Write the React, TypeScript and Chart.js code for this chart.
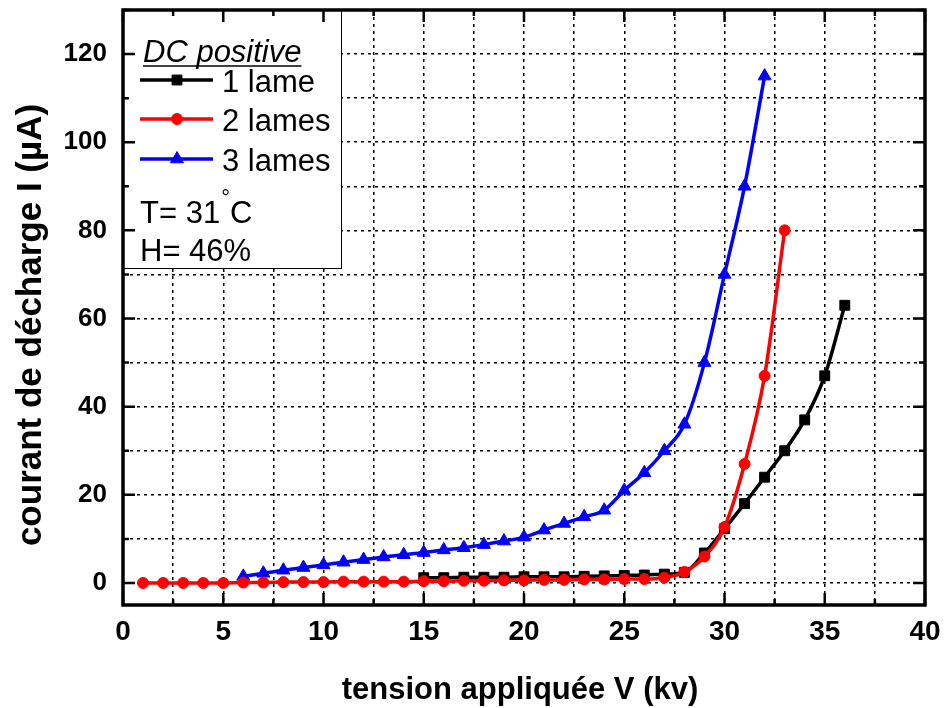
import React, { useEffect, useRef } from "react";
import { Chart, registerables } from "chart.js";

Chart.register(...registerables);

// ---- data ----
const V_1LAME = [15, 16, 17, 18, 19, 20, 21, 22, 23, 24, 25, 26, 27, 28, 29, 30, 31, 32, 33, 34, 35, 36];
const I_1LAME = [1.2, 1.2, 1.3, 1.3, 1.3, 1.4, 1.4, 1.4, 1.5, 1.6, 1.7, 1.8, 2.0, 2.4, 6.8, 12.3, 18, 24, 30, 37, 47, 63];

const V_2LAMES = [1, 2, 3, 4, 5, 6, 7, 8, 9, 10, 11, 12, 13, 14, 15, 16, 17, 18, 19, 20, 21, 22, 23, 24, 25, 26, 27, 28, 29, 30, 31, 32, 33];
const I_2LAMES = [0, 0, 0, 0, 0, 0.1, 0.1, 0.2, 0.2, 0.2, 0.3, 0.3, 0.3, 0.3, 0.4, 0.4, 0.5, 0.5, 0.6, 0.6, 0.7, 0.7, 0.8, 0.8, 0.9, 0.9, 1.2, 2.5, 6, 12.7, 27, 47, 80];

const V_3LAMES = [6, 7, 8, 9, 10, 11, 12, 13, 14, 15, 16, 17, 18, 19, 20, 21, 22, 23, 24, 25, 26, 27, 28, 29, 30, 31, 32];
const I_3LAMES = [1.5, 2.2, 2.9, 3.5, 4.1, 4.7, 5.3, 5.9, 6.4, 6.9, 7.5, 8.0, 8.7, 9.5, 10.4, 12, 13.5, 15, 16.5, 21, 25, 30, 36, 50, 70, 90, 115];

const X_TICKS = [0, 2.5, 5, 7.5, 10, 12.5, 15, 17.5, 20, 22.5, 25, 27.5, 30, 32.5, 35, 37.5, 40];
const X_LABELS = [0, 5, 10, 15, 20, 25, 30, 35, 40];
const Y_TICKS = [0, 10, 20, 30, 40, 50, 60, 70, 80, 90, 100, 110, 120, 130];
const Y_LABELS = [0, 20, 40, 60, 80, 100, 120];

const SERIES_NAMES = ["1 lame", "2 lames", "3 lames"];
const SERIES_COLORS = ["#000000", "#ff0000", "#0000ff"];
const LEGEND_TITLE = "DC positive";
const NOTE_T = "T= 31";
const NOTE_H = "H= 46%";
const X_TITLE = "tension appliquée V (kv)";
const Y_TITLE = "courant de décharge I (µA)";

const toPoints = (xs: number[], ys: number[]) => xs.map((x, i) => ({ x, y: ys[i] }));

const FONT = "'Liberation Sans', Arial, Helvetica, sans-serif";

function marker(ctx: CanvasRenderingContext2D, style: string, x: number, y: number, r: number) {
  ctx.beginPath();
  if (style === "rect") {
    const s = r * Math.SQRT1_2;
    ctx.rect(x - s, y - s, 2 * s, 2 * s);
  } else if (style === "circle") {
    ctx.arc(x, y, r, 0, Math.PI * 2);
  } else {
    const a = Math.PI / 6;
    ctx.moveTo(x, y - r);
    ctx.lineTo(x + Math.cos(a) * r, y + Math.sin(a) * r);
    ctx.lineTo(x - Math.cos(a) * r, y + Math.sin(a) * r);
    ctx.closePath();
  }
  ctx.fill();
  ctx.stroke();
}

const framePlugin = {
  id: "framePlugin",
  afterDraw(chart: any) {
    const { ctx, chartArea } = chart;
    const { left, right, top, bottom } = chartArea;
    const xs = chart.scales.x;
    const ys = chart.scales.y;
    ctx.save();

    // legend box
    const bx = left, by = top, bw = 341 - left, bh = 268 - top;
    ctx.fillStyle = "#ffffff";
    ctx.fillRect(bx, by, bw, bh);
    ctx.strokeStyle = "#000";
    ctx.lineWidth = 1;
    ctx.strokeRect(bx + 0.5, by + 0.5, bw, bh);

    ctx.fillStyle = "#000";
    ctx.textBaseline = "alphabetic";
    ctx.textAlign = "left";
    ctx.font = `italic 31px ${FONT}`;
    ctx.fillText(LEGEND_TITLE, 143, 62);
    const tw = ctx.measureText(LEGEND_TITLE).width;
    ctx.lineWidth = 1.5;
    ctx.beginPath();
    ctx.moveTo(143, 66);
    ctx.lineTo(143 + tw, 66);
    ctx.stroke();

    const rowsY = [80, 119, 159];
    const styles = ["rect", "circle", "triangle"];
    const radii = [7, 5.5, 7.5];
    rowsY.forEach((yy, i) => {
      ctx.strokeStyle = SERIES_COLORS[i];
      ctx.lineWidth = 3.5;
      ctx.beginPath();
      ctx.moveTo(140, yy);
      ctx.lineTo(213, yy);
      ctx.stroke();
      ctx.fillStyle = SERIES_COLORS[i];
      ctx.lineWidth = 1;
      marker(ctx, styles[i], 177, yy, radii[i]);
      ctx.fillStyle = "#000";
      ctx.font = `31px ${FONT}`;
      ctx.fillText(SERIES_NAMES[i], 222, yy + 12);
    });

    ctx.fillStyle = "#000";
    ctx.font = `31px ${FONT}`;
    ctx.fillText(NOTE_T, 140, 223);
    const w = ctx.measureText(NOTE_T).width;
    ctx.font = `22px ${FONT}`;
    ctx.fillText("°", 140 + w + 1, 205);
    const dw = ctx.measureText("°").width;
    ctx.font = `31px ${FONT}`;
    ctx.fillText("C", 140 + w + dw + 1, 223);
    ctx.fillText(NOTE_H, 140, 261);

    // inner ticks
    ctx.strokeStyle = "#000";
    ctx.lineWidth = 2.5;
    X_TICKS.forEach((v) => {
      const px = xs.getPixelForValue(v);
      const len = v % 5 === 0 ? 12 : 6;
      ctx.beginPath();
      ctx.moveTo(px, bottom);
      ctx.lineTo(px, bottom - len);
      ctx.moveTo(px, top);
      ctx.lineTo(px, top + len);
      ctx.stroke();
    });
    Y_TICKS.forEach((v) => {
      const py = ys.getPixelForValue(v);
      const len = v % 20 === 0 ? 12 : 6;
      ctx.beginPath();
      ctx.moveTo(left, py);
      ctx.lineTo(left + len, py);
      ctx.moveTo(right, py);
      ctx.lineTo(right - len, py);
      ctx.stroke();
    });

    // frame
    ctx.lineWidth = 3.5;
    ctx.strokeRect(left, top, right - left, bottom - top);

    // axis titles
    ctx.fillStyle = "#000";
    ctx.font = `bold 31px ${FONT}`;
    ctx.textAlign = "center";
    ctx.fillText(X_TITLE, (left + right) / 2 - 4, 699);
    ctx.save();
    ctx.translate(41, 325);
    ctx.rotate(-Math.PI / 2);
    ctx.font = `bold 35px ${FONT}`;
    ctx.fillText(Y_TITLE, 0, 0);
    ctx.restore();

    ctx.restore();
  },
};

export default function App() {
  const ref = useRef<HTMLCanvasElement | null>(null);

  useEffect(() => {
    if (!ref.current) return;
    const common = {
      showLine: true,
      borderWidth: 3.5,
      cubicInterpolationMode: "monotone" as const,
      pointBorderWidth: 1,
    };
    const chart = new Chart(ref.current, {
      type: "scatter",
      data: {
        datasets: [
          {
            ...common,
            label: SERIES_NAMES[0],
            data: toPoints(V_1LAME, I_1LAME),
            borderColor: SERIES_COLORS[0],
            backgroundColor: SERIES_COLORS[0],
            pointStyle: "rect",
            pointRadius: 7,
            order: 1,
          },
          {
            ...common,
            label: SERIES_NAMES[1],
            data: toPoints(V_2LAMES, I_2LAMES),
            borderColor: SERIES_COLORS[1],
            backgroundColor: SERIES_COLORS[1],
            pointStyle: "circle",
            pointRadius: 5.5,
            order: 0,
          },
          {
            ...common,
            label: SERIES_NAMES[2],
            data: toPoints(V_3LAMES, I_3LAMES),
            borderColor: SERIES_COLORS[2],
            backgroundColor: SERIES_COLORS[2],
            pointStyle: "triangle",
            pointRadius: 7.5,
            order: 2,
          },
        ],
      },
      options: {
        responsive: false,
        animation: false,
        layout: { padding: { top: 10, right: 19, left: 0, bottom: 0 } },
        plugins: { legend: { display: false }, tooltip: { enabled: false } },
        scales: {
          x: {
            type: "linear",
            min: 0,
            max: 40,
            afterBuildTicks: (s: any) => {
              s.ticks = X_TICKS.map((v) => ({ value: v }));
            },
            afterFit: (s: any) => {
              s.height = 103;
              s.paddingLeft = 0;
              s.paddingRight = 0;
            },
            ticks: {
              autoSkip: false,
              maxRotation: 0,
              padding: 10,
              color: "#000",
              font: { family: FONT, size: 28, weight: "bold" },
              callback: (v: any) => (X_LABELS.includes(Number(v)) ? String(v) : ""),
            },
            grid: {
              color: "#000",
              lineWidth: 1.5,
              drawTicks: false,
            },
            border: { display: false, dash: [3, 4] },
          },
          y: {
            type: "linear",
            min: -5,
            max: 130,
            afterBuildTicks: (s: any) => {
              s.ticks = Y_TICKS.map((v) => ({ value: v }));
            },
            afterFit: (s: any) => {
              s.width = 123;
              s.paddingTop = 0;
              s.paddingBottom = 0;
            },
            ticks: {
              autoSkip: false,
              padding: 16,
              color: "#000",
              font: { family: FONT, size: 26, weight: "bold" },
              callback: (v: any) => (Y_LABELS.includes(Number(v)) ? String(v) : ""),
            },
            grid: {
              color: "#000",
              lineWidth: 1.5,
              drawTicks: false,
            },
            border: { display: false, dash: [3, 4] },
          },
        },
      },
      plugins: [framePlugin],
    } as any);
    return () => chart.destroy();
  }, []);

  return (
    <div style={{ position: "fixed", left: 0, top: 0, width: 944, height: 708, background: "#fff" }}>
      <canvas ref={ref} width={944} height={708} style={{ display: "block" }} />
    </div>
  );
}
